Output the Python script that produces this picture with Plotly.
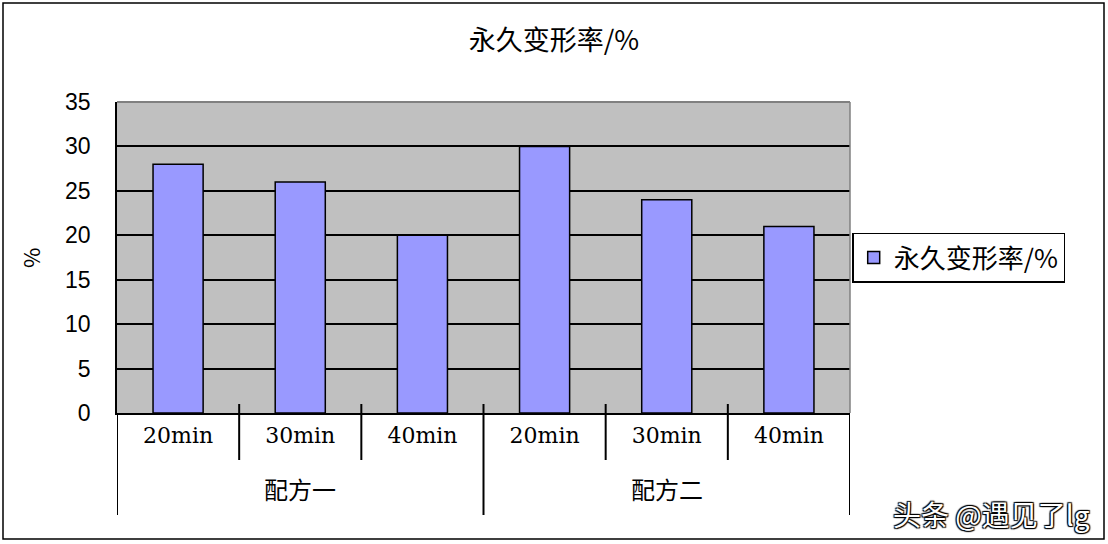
import plotly.graph_objects as go

# data
groups = ["配方一", "配方二"]
times = ["20min", "30min", "40min"]
rates = [28, 26, 20, 30, 24, 21]
series_name = "永久变形率/%"

W, H = 1108, 544
L, R, T, B = 117, 258, 102, 131
pw, ph = W - L - R, H - T - B

n_in = len(times)
xpos = list(range(len(rates)))
xlabels = times * len(groups)


def py(px_):
    # pixel row -> paper y
    return (T + ph - px_) / ph


def pxx(px_):
    # pixel column -> paper x
    return (px_ - L) / pw


fig = go.Figure()
fig.add_trace(go.Bar(
    x=xpos, y=rates, name=series_name,
    marker=dict(color="#9999FF", line=dict(color="#000000", width=1.5)),
))

fig.update_layout(
    width=W, height=H,
    margin=dict(l=L, r=R, t=T, b=B, autoexpand=False),
    paper_bgcolor="white", plot_bgcolor="#C0C0C0",
    bargap=0.59,
    showlegend=True,
    font=dict(family="Noto Sans CJK SC", color="#000000"),
    title=dict(text=series_name, x=0.5, xanchor="center", y=0.925, yanchor="middle",
               font=dict(size=27, family="Noto Sans CJK SC")),
    legend=dict(x=1.003, xanchor="left", y=0.5, yanchor="middle",
                bordercolor="#000000", borderwidth=1.5, bgcolor="white",
                font=dict(size=26, family="Noto Sans CJK SC"),
                itemwidth=30),
)

fig.update_xaxes(
    range=[-0.5, len(rates) - 0.5],
    tickmode="array", tickvals=xpos, ticktext=xlabels,
    showline=True, linecolor="#000000", linewidth=1.5,
    ticks="", ticklabelstandoff=2,
    tickfont=dict(size=22, family="DejaVu Serif"),
    showgrid=False, zeroline=False,
)
fig.update_yaxes(
    range=[0, 35], dtick=5,
    showline=True, linecolor="#000000", linewidth=1.5,
    showgrid=True, gridcolor="#000000", gridwidth=1.5,
    ticks="", ticklabelstandoff=20,
    tickfont=dict(size=23, family="Liberation Sans"),
    zeroline=False,
)

# grey frame of the plot area (top and right)
fig.add_shape(type="line", xref="paper", yref="paper", x0=0, x1=1, y0=1, y1=1,
              line=dict(color="#808080", width=2))
fig.add_shape(type="line", xref="paper", yref="paper", x0=1, x1=1, y0=0, y1=1,
              line=dict(color="#808080", width=1.5))

# category separators
for g in range(len(groups)):
    for k in range(1, n_in):
        xb = g * n_in + k - 0.5
        fig.add_shape(type="line", xref="x", yref="paper", x0=xb, x1=xb,
                      y0=py(404), y1=py(460), line=dict(color="#000000", width=2))
for g in range(len(groups) + 1):
    xb = g * n_in - 0.5
    top = py(404) if 0 < g < len(groups) else 0
    fig.add_shape(type="line", xref="x", yref="paper", x0=xb, x1=xb,
                  y0=top, y1=py(515), line=dict(color="#000000", width=2))

# group labels
for g, name in enumerate(groups):
    fig.add_annotation(text=name, xref="x", yref="paper",
                       x=g * n_in + (n_in - 1) / 2, y=py(488),
                       showarrow=False, xanchor="center", yanchor="middle",
                       font=dict(size=24, family="Noto Sans CJK SC"))

# y axis title
fig.add_annotation(text="%", xref="paper", yref="paper", x=pxx(30), y=py(258),
                   textangle=-90, showarrow=False, xanchor="center", yanchor="middle",
                   font=dict(size=22, family="Noto Sans CJK SC"))

# outer border of the whole chart
fig.add_shape(type="rect", xref="paper", yref="paper",
              x0=pxx(3), x1=pxx(W - 4), y0=py(H - 5), y1=py(3),
              line=dict(color="#000000", width=1.5))

fig.add_annotation(text="头条 @遇见了lg", xref="paper", yref="paper",
                   x=pxx(W - 16), y=py(H - 30),
                   xanchor="right", yanchor="middle", showarrow=False,
                   font=dict(size=28, color="white", family="Noto Sans CJK SC",
                             shadow="1px 1px 1px #000, -1px -1px 1px #000, 1px -1px 1px #000, -1px 1px 1px #000"))

fig.write_html("out.html", config={"displayModeBar": False},
               post_script="document.body.style.margin='0';")
